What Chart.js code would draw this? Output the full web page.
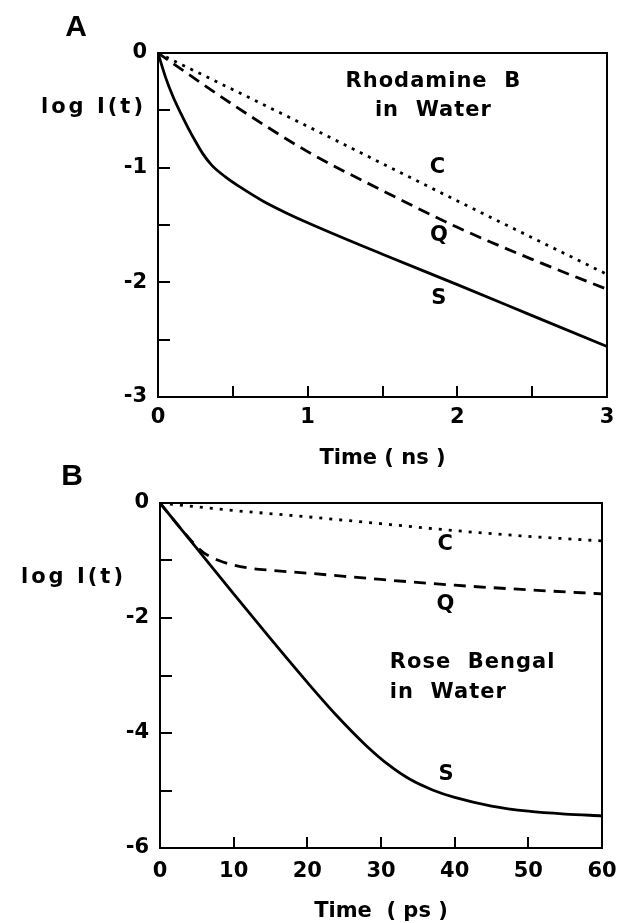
<!DOCTYPE html>
<html><head><meta charset="utf-8">
<script src="https://cdn.jsdelivr.net/npm/chart.js@4"></script>
<style>
html,body{margin:0;padding:0;background:#fff;}
body{width:620px;height:923px;position:relative;overflow:hidden;}
canvas{position:absolute;left:0;}
#cA{top:0}
#cB{top:455px}
</style></head><body>
<canvas id="cA" width="620" height="480"></canvas>
<canvas id="cB" width="620" height="468"></canvas>
<script>
// ---------- Panel A: Rhodamine B in water (time in ns) ----------
const timeA_C = [0, 1, 2, 3];
const logA_C  = [0, -0.64, -1.29, -1.93];
const timeA_Q = [0, 0.5, 1.0, 1.5, 2.0, 2.5, 3.0];
const logA_Q  = [0, -0.45, -0.86, -1.20, -1.52, -1.80, -2.06];
const timeA_S = [0, 0.05, 0.1, 0.15, 0.2, 0.25, 0.3, 0.36, 0.45, 0.55, 0.7, 0.85, 1.0, 1.5, 2.0, 2.5, 3.0];
const logA_S  = [0, -0.21, -0.38, -0.52, -0.65, -0.77, -0.88, -0.98, -1.08, -1.17, -1.29, -1.39, -1.48, -1.755, -2.02, -2.29, -2.56];

// ---------- Panel B: Rose Bengal in water (time in ps) ----------
const timeB_C = [0, 10, 20, 30, 40, 50, 60];
const logB_C  = [0, -0.13, -0.24, -0.36, -0.48, -0.58, -0.66];
const timeB_Q = [0, 3, 5, 6, 7, 8, 10, 12, 15, 20, 30, 40, 50, 60];
const logB_Q  = [0, -0.47, -0.76, -0.87, -0.94, -1.00, -1.08, -1.13, -1.17, -1.22, -1.33, -1.43, -1.51, -1.58];
const timeB_S = [0, 5, 10, 15, 20, 24, 28, 31, 34, 37, 40, 45, 50, 55, 60];
const logB_S  = [0, -0.79, -1.58, -2.36, -3.12, -3.70, -4.22, -4.55, -4.81, -4.99, -5.12, -5.27, -5.36, -5.41, -5.44];

// axis ranges / ticks
const xRangeA = [0, 3], xStepA = 0.5, yRangeA = [-3, 0], yStepA = 0.5;
const xRangeB = [0, 60], xStepB = 10, yRangeB = [-6, 0], yStepB = 1;

// text annotations (in data coordinates)
const notesA = [
  {text: 'Rhodamine  B', x: 1.84, y: -0.25, align: 'center'},
  {text: 'in  Water',    x: 1.84, y: -0.50, align: 'center'},
  {text: 'C', x: 1.87, y: -1.00, align: 'center'},
  {text: 'Q', x: 1.88, y: -1.59, align: 'center'},
  {text: 'S', x: 1.88, y: -2.14, align: 'center'}
];
const notesB = [
  {text: 'C', x: 38.8, y: -0.73, align: 'center'},
  {text: 'Q', x: 38.8, y: -1.77, align: 'center'},
  {text: 'Rose  Bengal', x: 31.2, y: -2.77, align: 'left'},
  {text: 'in  Water',    x: 31.2, y: -3.30, align: 'left'},
  {text: 'S', x: 38.9, y: -4.73, align: 'center'}
];

const FONT = 'DejaVu Sans';

function pts(xs, ys) { return xs.map((t, i) => ({x: t, y: ys[i]})); }

const decor = {
  id: 'decor',
  afterDraw(chart, args, o) {
    const {ctx, chartArea: a, scales: {x, y}} = chart;
    ctx.save();
    ctx.strokeStyle = '#000'; ctx.lineWidth = 2;
    ctx.strokeRect(a.left, a.top, a.right - a.left, a.bottom - a.top);
    ctx.fillStyle = '#000';
    ctx.font = 'bold 30px "Liberation Sans"';
    ctx.textAlign = 'center'; ctx.textBaseline = 'middle';
    ctx.fillText(o.letter, o.letterX, o.letterY);
    ctx.font = 'bold 21px "' + FONT + '"';
    ctx.letterSpacing = '3px';
    ctx.textAlign = 'right';
    ctx.fillText('log I(t)', a.left - o.yLabelGap + 3, y.getPixelForValue(o.yLabelValue));
    ctx.font = 'bold 21px "' + FONT + '"';
    ctx.letterSpacing = '1px';
    for (const n of o.notes) {
      ctx.textAlign = n.align;
      ctx.fillText(n.text, x.getPixelForValue(n.x), y.getPixelForValue(n.y));
    }
    ctx.restore();
  }
};

function axisCommon(extra) {
  return Object.assign({
    type: 'linear',
    border: {display: true, color: '#000', width: 2}
  }, extra);
}

function line(data, dash) {
  return {data, borderColor: '#000', borderWidth: 2.8, pointRadius: 0, fill: false,
          cubicInterpolationMode: 'monotone', borderDash: dash};
}

function xFit(h) { return s => { s.height = h; s.paddingLeft = 0; s.paddingRight = 0; }; }
function yFit(w) { return s => { s.width = w; s.paddingTop = 0; s.paddingBottom = 0; }; }

new Chart(document.getElementById('cA'), {
  type: 'line',
  data: {datasets: [
    line(pts(timeA_C, logA_C), [3, 6]),
    line(pts(timeA_Q, logA_Q), [12, 7]),
    line(pts(timeA_S, logA_S), [])
  ]},
  plugins: [decor],
  options: {
    responsive: false, animation: false, devicePixelRatio: 1,
    layout: {padding: {top: 53, right: 13, left: 0, bottom: 0}},
    plugins: {legend: {display: false}, tooltip: {enabled: false},
      decor: {letter: 'A', letterX: 76, letterY: 28, yLabelGap: 15, yLabelValue: -0.48, notes: notesA}},
    scales: {
      x: axisCommon({min: xRangeA[0], max: xRangeA[1],
        afterFit: xFit(83),
        grid: {drawOnChartArea: false, drawTicks: true, tickLength: -11, color: '#000', lineWidth: 2},
        ticks: {stepSize: xStepA, autoSkip: false, maxRotation: 0, padding: 19, color: '#000',
          font: {family: FONT, size: 21, weight: 'bold'},
          callback: v => Number.isInteger(v) ? String(v) : ''},
        title: {display: true, text: 'Time ( ns )', color: '#000',
          font: {family: FONT, size: 21, weight: 'bold', lineHeight: 1}, padding: {top: 0, bottom: 11}}
      }),
      y: axisCommon({min: yRangeA[0], max: yRangeA[1],
        afterFit: yFit(158),
        grid: {drawOnChartArea: false, drawTicks: true, tickLength: -12, color: '#000', lineWidth: 2},
        ticks: {stepSize: yStepA, autoSkip: false, padding: 23, color: '#000',
          font: {family: FONT, size: 21, weight: 'bold'},
          callback: v => Number.isInteger(v) ? String(v) : ''}
      })
    }
  }
});

new Chart(document.getElementById('cB'), {
  type: 'line',
  data: {datasets: [
    line(pts(timeB_C, logB_C), [3, 7]),
    line(pts(timeB_Q, logB_Q), [12, 8]),
    line(pts(timeB_S, logB_S), [])
  ]},
  plugins: [decor],
  options: {
    responsive: false, animation: false, devicePixelRatio: 1,
    layout: {padding: {top: 48, right: 18, left: 0, bottom: 0}},
    plugins: {legend: {display: false}, tooltip: {enabled: false},
      decor: {letter: 'B', letterX: 72, letterY: 22, yLabelGap: 37, yLabelValue: -1.29, notes: notesB}},
    scales: {
      x: axisCommon({min: xRangeB[0], max: xRangeB[1],
        afterFit: xFit(75),
        grid: {drawOnChartArea: false, drawTicks: true, tickLength: -11, color: '#000', lineWidth: 2},
        ticks: {stepSize: xStepB, autoSkip: false, maxRotation: 0, padding: 22, color: '#000',
          font: {family: FONT, size: 21, weight: 'bold'},
          callback: v => String(v)},
        title: {display: true, text: 'Time  ( ps )', color: '#000',
          font: {family: FONT, size: 21, weight: 'bold', lineHeight: 1}, padding: {top: 0, bottom: 1}}
      }),
      y: axisCommon({min: yRangeB[0], max: yRangeB[1],
        afterFit: yFit(160),
        grid: {drawOnChartArea: false, drawTicks: true, tickLength: -12, color: '#000', lineWidth: 2},
        ticks: {stepSize: yStepB, autoSkip: false, padding: 23, color: '#000',
          font: {family: FONT, size: 21, weight: 'bold'},
          callback: v => (v % 2 === 0) ? String(v) : ''}
      })
    }
  }
});
</script>
</body></html>
